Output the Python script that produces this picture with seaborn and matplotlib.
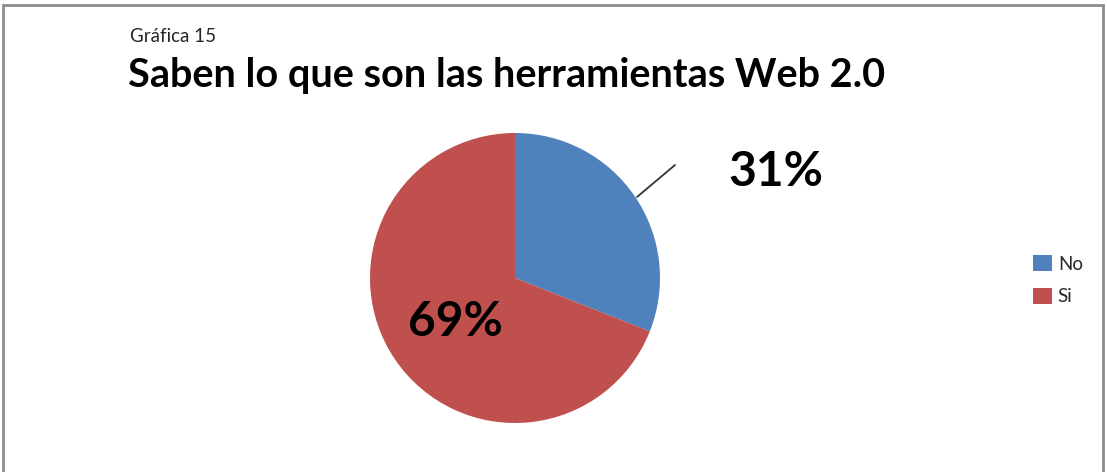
import matplotlib
matplotlib.use("Agg")
import matplotlib.pyplot as plt
import seaborn as sns
from matplotlib.patches import Rectangle

# datos de la gráfica
categorias = ["No", "Si"]
porcentajes = [31, 69]
etiquetas = ["31%", "69%"]
subtitulo = "Gráfica 15"
titulo = "Saben lo que son las herramientas Web 2.0"

sns.set_theme(style="white")
plt.rcParams["font.family"] = ["Lato", "DejaVu Sans"]
colores = sns.color_palette(["#4F81BD", "#C0504D"])

W, H = 1107, 472
fig = plt.figure(figsize=(W / 100, H / 100), dpi=100)
ax = fig.add_axes([0, 0, 1, 1])

cuñas, _ = ax.pie(porcentajes, colors=colores, startangle=90, counterclock=False,
                  center=(515, H - 278), radius=145, frame=True,
                  wedgeprops=dict(linewidth=0))
ax.set_xlim(0, W)
ax.set_ylim(0, H)
ax.set_aspect("equal")
ax.axis("off")

# marco de la gráfica
fig.patches.append(Rectangle((3 / W, -0.01), (W - 7) / W, (H - 5) / H + 0.01,
                             transform=fig.transFigure, fill=False,
                             edgecolor="#8c8c8c", linewidth=2))

fig.text(130 / W, 1 - 36 / H, subtitulo, fontsize=13.5, color="#262626",
         va="center", ha="left")
fig.text(128 / W, 1 - 76 / H, titulo, fontsize=28.5, fontweight="bold",
         color="black", va="center", ha="left")

# etiquetas de datos
ax.plot([637, 675], [H - 197, H - 165], color="#333333", linewidth=1.3)
ax.text(776, H - 172, etiquetas[0], fontsize=34.5, fontweight="bold",
        ha="center", va="center", color="black")
ax.text(455, H - 322, etiquetas[1], fontsize=34.5, fontweight="bold",
        ha="center", va="center", color="black")

ax.legend(cuñas, categorias, loc="center left",
          bbox_to_anchor=(1024 / W, 1 - 280 / H), frameon=False,
          fontsize=13.5, handlelength=1.0, handleheight=1.0,
          handletextpad=0.3, labelspacing=0.8, borderpad=0)

fig.savefig("out.png", dpi=100)
